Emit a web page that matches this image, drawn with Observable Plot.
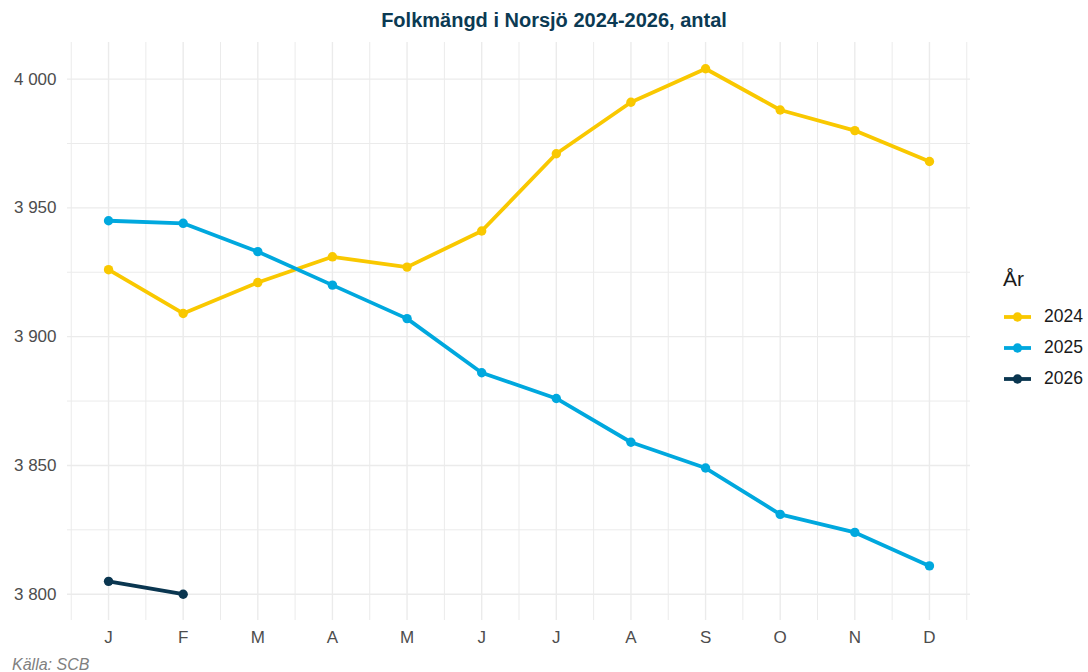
<!DOCTYPE html>
<html>
<head>
<meta charset="utf-8">
<script src="https://cdn.jsdelivr.net/npm/d3@7"></script>
<script src="https://cdn.jsdelivr.net/npm/@observablehq/plot@0.6"></script>
<style>
  html, body { margin: 0; padding: 0; background: #ffffff; }
  body { font-family: "Liberation Sans", Arial, sans-serif; width: 1088px; height: 672px; overflow: hidden; }
  #wrap { position: relative; width: 1088px; height: 672px; }
  #title { position: absolute; left: 0; top: 0; width: 1108px; height: 36px; line-height: 40px; text-align: center;
           font-size: 20px; font-weight: bold; color: #0b3a53; }
  #chart { position: absolute; left: 0; top: 36px; }
  #legend { position: absolute; left: 1003px; top: 265px; color: #1a1a1a; }
  #legend .lt { font-size: 21px; height: 36px; line-height: 28px; }
  #legend .row { display: flex; align-items: center; height: 31px; font-size: 17.5px; }
  #legend .row svg { margin-right: 12px; }
  #caption { position: absolute; left: 12px; top: 657px; font-size: 16px; font-style: italic; color: #808080; line-height: 16px; }
</style>
</head>
<body>
<div id="wrap">
  <div id="title">Folkmängd i Norsjö 2024-2026, antal</div>
  <div id="chart"></div>
  <div id="legend"></div>
  <div id="caption">Källa: SCB</div>
</div>
<script>
const monthLabels = ["J","F","M","A","M","J","J","A","S","O","N","D"];
const years = ["2024","2025","2026"];
const values2024 = [3926, 3909, 3921, 3931, 3927, 3941, 3971, 3991, 4004, 3988, 3980, 3968];
const values2025 = [3945, 3944, 3933, 3920, 3907, 3886, 3876, 3859, 3849, 3831, 3824, 3811];
const values2026 = [3805, 3800];
const yTicks = [3800, 3850, 3900, 3950, 4000];
const colors = ["#f9c800", "#00a8de", "#0a3650"];

const series = {"2024": values2024, "2025": values2025, "2026": values2026};
const rows = [];
for (const y of years) series[y].forEach((v, i) => rows.push({year: y, month: i + 1, value: v}));

const monthPos = monthLabels.map((_, i) => i + 1);
const monthMinor = d3.range(0.5, 12.6, 1);
const yMinor = [3825, 3875, 3925, 3975];

const fmt = d3.formatLocale({decimal: ",", thousands: "\u00a0", grouping: [3], currency: ["", ""]}).format(",");

const plot = Plot.plot({
  width: 980,
  height: 614,
  marginLeft: 67,
  marginRight: 10,
  marginTop: 6,
  marginBottom: 30,
  style: {fontFamily: "'Liberation Sans', Arial, sans-serif", fontSize: "17px", color: "#4d4d4d", background: "transparent"},
  x: {type: "linear", domain: [0.45, 12.55]},
  y: {type: "linear", domain: [3789.8, 4014.2]},
  color: {domain: years, range: colors},
  marks: [
    Plot.ruleX(monthMinor, {stroke: "#ebebeb", strokeWidth: 1}),
    Plot.ruleY(yMinor, {stroke: "#ebebeb", strokeWidth: 1}),
    Plot.ruleX(monthPos, {stroke: "#ebebeb", strokeWidth: 1.4}),
    Plot.ruleY(yTicks, {stroke: "#ebebeb", strokeWidth: 1.4}),
    Plot.axisX(monthPos, {tickFormat: (d) => monthLabels[d - 1], tickSize: 0, tickPadding: 10, label: null, fill: "#4d4d4d", fontSize: 17}),
    Plot.axisY(yTicks, {tickFormat: fmt, tickSize: 0, tickPadding: 11, label: null, fill: "#4d4d4d", fontSize: 17}),
    Plot.line(rows, {x: "month", y: "value", z: "year", stroke: "year", strokeWidth: 3.8}),
    Plot.dot(rows, {x: "month", y: "value", fill: "year", r: 4.7})
  ]
});
document.getElementById("chart").appendChild(plot);

const legend = document.getElementById("legend");
const lt = document.createElement("div");
lt.className = "lt";
lt.textContent = "År";
legend.appendChild(lt);
years.forEach((y, i) => {
  const row = document.createElement("div");
  row.className = "row";
  row.innerHTML = `<svg width="29" height="14"><line x1="1" x2="28" y1="7" y2="7" stroke="${colors[i]}" stroke-width="3.8"/><circle cx="14.5" cy="7" r="4.7" fill="${colors[i]}"/></svg><span>${y}</span>`;
  legend.appendChild(row);
});
</script>
</body>
</html>
